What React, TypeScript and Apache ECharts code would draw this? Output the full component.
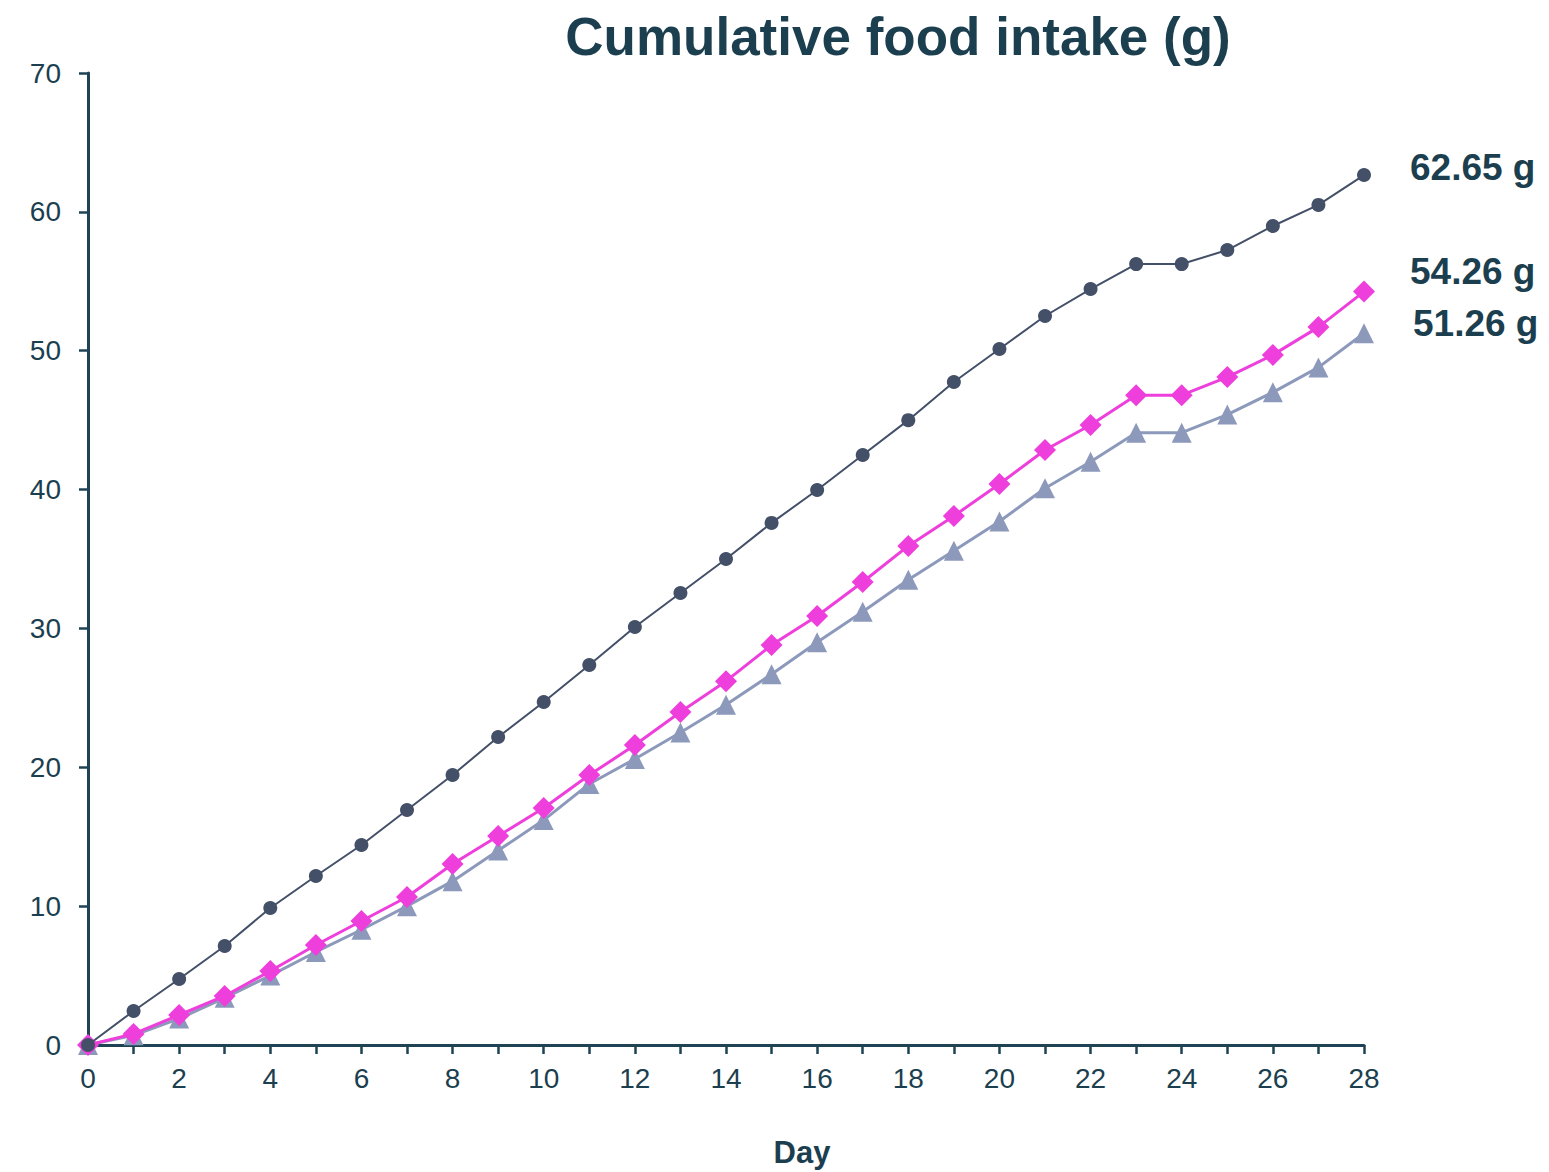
import React, { useEffect, useRef } from "react";
import * as echarts from "echarts";

const days = [0,1,2,3,4,5,6,7,8,9,10,11,12,13,14,15,16,17,18,19,20,21,22,23,24,25,26,27,28];
const seriesCircle = [0,2.45,4.75,7.13,9.87,12.17,14.4,16.92,19.44,22.18,24.7,27.37,30.1,32.55,35.0,37.6,39.97,42.49,45.0,47.75,50.12,52.5,54.44,56.24,56.24,57.25,58.98,60.5,62.65];
const seriesDiamond = [0,0.8,2.16,3.53,5.33,7.2,8.93,10.66,13.03,15.05,17.07,19.44,21.6,23.98,26.2,28.8,30.9,33.34,35.94,38.1,40.4,42.85,44.65,46.8,46.8,48.1,49.7,51.7,54.26];
const seriesTriangle = [0,0.7,1.9,3.4,5.0,6.7,8.3,10.0,11.8,14.0,16.2,18.8,20.6,22.5,24.5,26.7,29.0,31.2,33.5,35.6,37.7,40.1,42.0,44.1,44.1,45.4,47.0,48.8,51.26];
const endLabels = ["62.65 g", "54.26 g", "51.26 g"];
const titleText = "Cumulative food intake (g)";
const xAxisName = "Day";

const TEXT = "#1c3f50";
const AXIS = "#1f4354";
const FONT = "Liberation Sans, Arial, sans-serif";

export default function App() {
  const ref = useRef<HTMLDivElement>(null);
  useEffect(() => {
    if (!ref.current) return;
    const chart = echarts.init(ref.current, undefined, { renderer: "svg" });
    const pair = (arr: number[]) => days.map((d, i) => [d, arr[i]]);
    const endLabel = (text: string, offset: number[]) => ({
      show: true,
      formatter: () => text,
      offset,
      fontSize: 37,
      fontWeight: "bold",
      color: TEXT,
      fontFamily: FONT,
    });
    chart.setOption({
      animation: false,
      backgroundColor: "#ffffff",
      textStyle: { fontFamily: FONT },
      title: {
        text: titleText,
        left: 893,
        textAlign: "center",
        top: 5,
        textStyle: { fontSize: 53, fontWeight: "bold", color: TEXT, fontFamily: FONT },
      },
      graphic: [
        {
          type: "text",
          x: 802,
          y: 1152,
          style: {
            text: xAxisName,
            fontSize: 31,
            fontWeight: "bold",
            fill: TEXT,
            fontFamily: FONT,
            textAlign: "center",
            textVerticalAlign: "middle",
          },
        },
      ],
      grid: { left: 88, right: 185, top: 73, bottom: 127, containLabel: false, outerBoundsMode: "none" },
      xAxis: {
        type: "value",
        min: 0,
        max: 28,
        interval: 2,
        axisLine: { show: true, onZero: false, lineStyle: { color: AXIS, width: 3 } },
        axisTick: { show: true, length: 9, lineStyle: { color: AXIS, width: 2.5 } },
        minorTick: { show: true, splitNumber: 2, length: 9, lineStyle: { color: AXIS, width: 2.5 } },
        axisLabel: { fontSize: 28, color: TEXT, margin: 19, fontFamily: FONT },
        splitLine: { show: false },
      },
      yAxis: {
        type: "value",
        min: 0,
        max: 70,
        interval: 10,
        axisLine: { show: true, lineStyle: { color: AXIS, width: 3 } },
        axisTick: { show: true, length: 9, lineStyle: { color: AXIS, width: 2.5 } },
        axisLabel: { fontSize: 28, color: TEXT, margin: 27, fontFamily: FONT },
        splitLine: { show: false },
      },
      series: [
        {
          type: "line",
          data: pair(seriesTriangle),
          symbol: "triangle",
          symbolSize: 20,
          z: 2,
          itemStyle: { color: "#8c99bb" },
          lineStyle: { color: "#8c99bb", width: 3 },
          endLabel: endLabel(endLabels[2], [41, -10]),
        },
        {
          type: "line",
          data: pair(seriesDiamond),
          symbol: "diamond",
          symbolSize: 22,
          z: 3,
          itemStyle: { color: "#ee3fdd" },
          lineStyle: { color: "#ee3fdd", width: 3 },
          endLabel: endLabel(endLabels[1], [38, -20]),
        },
        {
          type: "line",
          data: pair(seriesCircle),
          symbol: "circle",
          symbolSize: 14,
          z: 4,
          itemStyle: { color: "#435068" },
          lineStyle: { color: "#435068", width: 2 },
          endLabel: endLabel(endLabels[0], [38, -8]),
        },
      ],
    });
    return () => chart.dispose();
  }, []);
  return (
    <>
      <style>{"html,body{margin:0;padding:0;overflow:hidden;}"}</style>
      <div ref={ref} style={{ width: 1549, height: 1172 }} />
    </>
  );
}
